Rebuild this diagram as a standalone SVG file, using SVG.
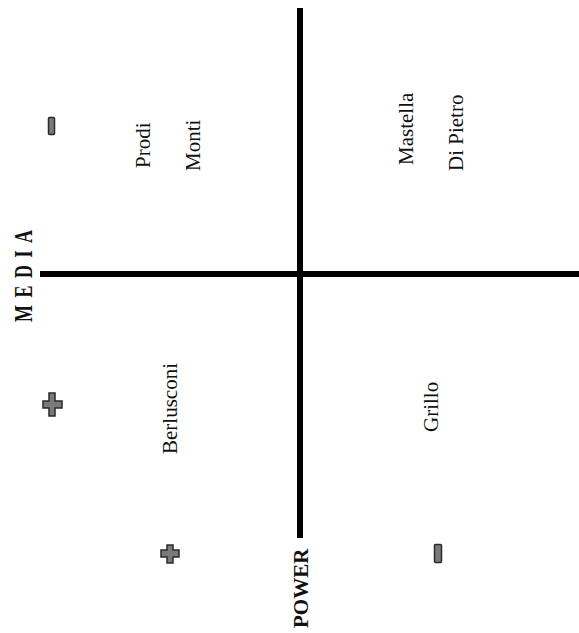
<svg xmlns="http://www.w3.org/2000/svg" width="579" height="633" viewBox="0 0 579 633">
<style>
.lbl{font-family:"Liberation Serif","Times New Roman",serif;font-size:21px;fill:#111}
.axis{font-family:"Liberation Serif","Times New Roman",serif;font-weight:bold;fill:#111}
.sign{fill:#7a7a7a;stroke:#2a2a2a;stroke-width:1.5}
</style>
<rect width="579" height="633" fill="#fff"/>
<g id="connectors" stroke="#000" stroke-width="6">
<line x1="300" y1="8" x2="300" y2="538"/>
<line x1="40" y1="274" x2="579" y2="274"/>
</g>
<g id="media-label"><text class="axis" font-size="18" letter-spacing="7.5" transform="translate(32,322) rotate(-90) scale(1,1.35)">MEDIA</text></g>
<g id="power-label"><text class="axis" font-size="21" transform="translate(308,628) rotate(-90)">POWER</text></g>
<g id="prodi"><text class="lbl" transform="translate(150,168) rotate(-90)">Prodi</text></g>
<g id="monti"><text class="lbl" transform="translate(200,171) rotate(-90)">Monti</text></g>
<g id="mastella"><text class="lbl" transform="translate(413,165) rotate(-90)">Mastella</text></g>
<g id="dipietro"><text class="lbl" transform="translate(463,171) rotate(-90)">Di Pietro</text></g>
<g id="berlusconi"><text class="lbl" transform="translate(177,454) rotate(-90)">Berlusconi</text></g>
<g id="grillo"><text class="lbl" transform="translate(438,432) rotate(-90)">Grillo</text></g>
<g id="minus-media"><rect class="sign" x="48.5" y="117.5" width="6" height="17" rx="1"/></g>
<g id="plus-media"><path class="sign" d="M49,393 h6 v8 h7 v7 h-7 v8 h-6 v-8 h-6 v-7 h6 z"/></g>
<g id="plus-power"><path class="sign" d="M167,545 h6 v5 h6 v7 h-6 v6 h-6 v-6 h-6 v-7 h6 z"/></g>
<g id="minus-power"><rect class="sign" x="434.5" y="544.5" width="7" height="18" rx="1"/></g>
</svg>
